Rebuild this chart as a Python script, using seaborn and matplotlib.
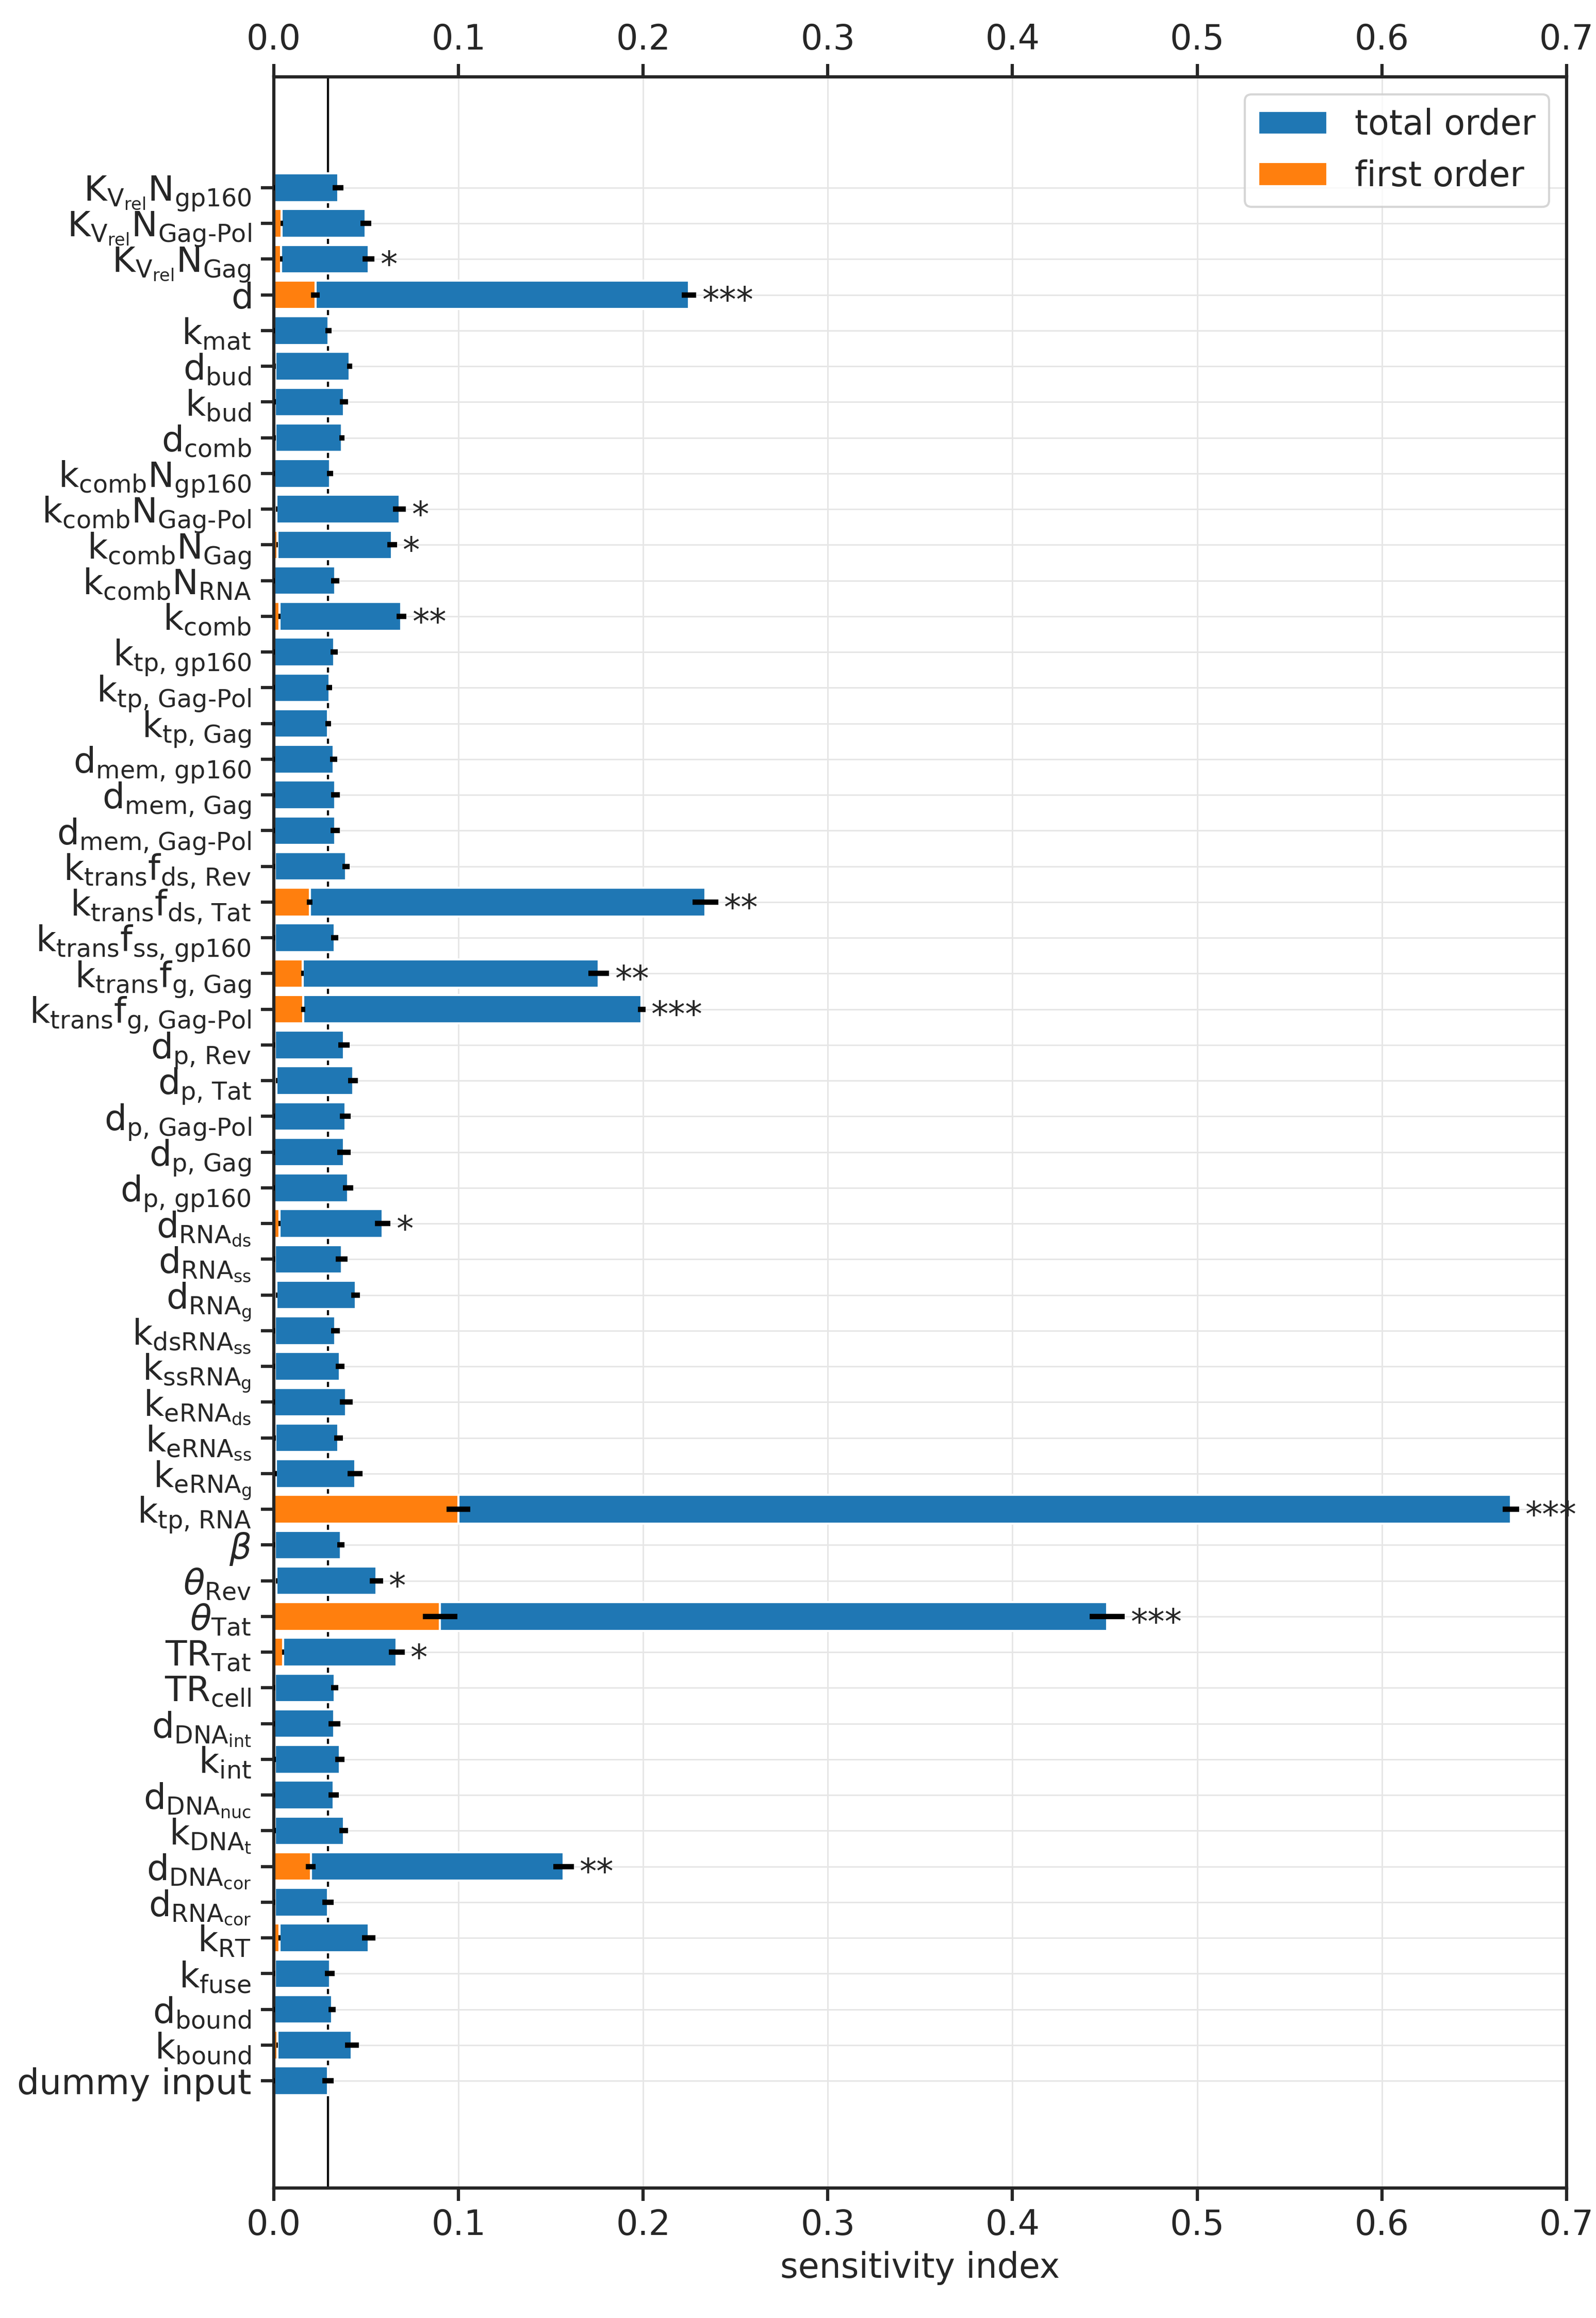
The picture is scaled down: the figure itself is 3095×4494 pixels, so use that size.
import numpy as np
import pandas as pd
import seaborn as sns
import matplotlib.pyplot as plt

# parameter labels (top to bottom)
params = [
    r'$K_{V_{rel}}N_{gp160}$', r'$K_{V_{rel}}N_{\text{Gag-Pol}}$', r'$K_{V_{rel}}N_{Gag}$',
    r'$d$', r'$k_{mat}$', r'$d_{bud}$', r'$k_{bud}$', r'$d_{comb}$',
    r'$k_{comb}N_{gp160}$', r'$k_{comb}N_{\text{Gag-Pol}}$', r'$k_{comb}N_{Gag}$',
    r'$k_{comb}N_{RNA}$', r'$k_{comb}$',
    r'$k_{\text{tp, gp160}}$', r'$k_{\text{tp, Gag-Pol}}$', r'$k_{\text{tp, Gag}}$',
    r'$d_{\text{mem, gp160}}$', r'$d_{\text{mem, Gag}}$', r'$d_{\text{mem, Gag-Pol}}$',
    r'$k_{trans}f_{\text{ds, Rev}}$', r'$k_{trans}f_{\text{ds, Tat}}$',
    r'$k_{trans}f_{\text{ss, gp160}}$', r'$k_{trans}f_{\text{g, Gag}}$',
    r'$k_{trans}f_{\text{g, Gag-Pol}}$',
    r'$d_{\text{p, Rev}}$', r'$d_{\text{p, Tat}}$', r'$d_{\text{p, Gag-Pol}}$',
    r'$d_{\text{p, Gag}}$', r'$d_{\text{p, gp160}}$',
    r'$d_{RNA_{ds}}$', r'$d_{RNA_{ss}}$', r'$d_{RNA_{g}}$',
    r'$k_{dsRNA_{ss}}$', r'$k_{ssRNA_{g}}$',
    r'$k_{eRNA_{ds}}$', r'$k_{eRNA_{ss}}$', r'$k_{eRNA_{g}}$',
    r'$k_{\text{tp, RNA}}$', r'$\mathit{\beta}$',
    r'$\mathit{\theta}_{Rev}$', r'$\mathit{\theta}_{Tat}$',
    r'$TR_{Tat}$', r'$TR_{cell}$',
    r'$d_{DNA_{int}}$', r'$k_{int}$', r'$d_{DNA_{nuc}}$', r'$k_{DNA_{t}}$',
    r'$d_{DNA_{cor}}$', r'$d_{RNA_{cor}}$', r'$k_{RT}$', r'$k_{fuse}$',
    r'$d_{bound}$', r'$k_{bound}$', 'dummy input',
]

total = [0.0348, 0.0498, 0.0513, 0.2248, 0.0296, 0.0410, 0.0380, 0.0367,
         0.0303, 0.0680, 0.0640, 0.0333, 0.0690,
         0.0327, 0.0300, 0.0294, 0.0324, 0.0333, 0.0333,
         0.0390, 0.2336, 0.0330, 0.1760, 0.1992,
         0.0379, 0.0429, 0.0387, 0.0379, 0.0401,
         0.0589, 0.0367, 0.0443, 0.0333, 0.0358,
         0.0392, 0.0350, 0.0440, 0.6700, 0.0362,
         0.0555, 0.4512, 0.0665, 0.0330,
         0.0327, 0.0356, 0.0324, 0.0379, 0.1568, 0.0293, 0.0513, 0.0303,
         0.0316, 0.0422, 0.0293]

total_err = [0.0030, 0.0030, 0.0032, 0.0040, 0.0016, 0.0015, 0.0022, 0.0014,
             0.0017, 0.0036, 0.0026, 0.0022, 0.0027,
             0.0020, 0.0015, 0.0015, 0.0019, 0.0023, 0.0025,
             0.0020, 0.0070, 0.0020, 0.0056, 0.0020,
             0.0030, 0.0027, 0.0030, 0.0037, 0.0028,
             0.0043, 0.0032, 0.0024, 0.0024, 0.0023,
             0.0034, 0.0023, 0.0040, 0.0045, 0.0020,
             0.0036, 0.0095, 0.0043, 0.0020,
             0.0032, 0.0025, 0.0027, 0.0024, 0.0056, 0.0032, 0.0036, 0.0027,
             0.0020, 0.0038, 0.0031]

first = [0.0003, 0.0042, 0.0040, 0.0225, 0.0003, 0.0008, 0.0006, 0.0007,
         0.0003, 0.0015, 0.0018, 0.0003, 0.0030,
         0.0003, 0.0003, 0.0003, 0.0003, 0.0003, 0.0003,
         0.0005, 0.0194, 0.0005, 0.0155, 0.0159,
         0.0005, 0.0015, 0.0003, 0.0003, 0.0003,
         0.0030, 0.0005, 0.0015, 0.0005, 0.0005,
         0.0003, 0.0007, 0.0011, 0.1000, 0.0005,
         0.0015, 0.0900, 0.0050, 0.0005,
         0.0003, 0.0006, 0.0003, 0.0006, 0.0200, 0.0005, 0.0030, 0.0005,
         0.0003, 0.0018, 0.0002]

first_err = [0.0002, 0.0007, 0.0006, 0.0023, 0.0002, 0.0004, 0.0004, 0.0004,
             0.0002, 0.0005, 0.0005, 0.0002, 0.0005,
             0.0002, 0.0002, 0.0002, 0.0002, 0.0002, 0.0002,
             0.0004, 0.0015, 0.0004, 0.0007, 0.0010,
             0.0004, 0.0005, 0.0002, 0.0002, 0.0002,
             0.0005, 0.0004, 0.0005, 0.0004, 0.0004,
             0.0002, 0.0004, 0.0005, 0.0064, 0.0004,
             0.0005, 0.0093, 0.0005, 0.0004,
             0.0002, 0.0004, 0.0002, 0.0004, 0.0027, 0.0004, 0.0005, 0.0004,
             0.0002, 0.0005, 0.0002]

stars = ['', '', '*', '***', '', '', '', '',
         '', '*', '*', '', '**',
         '', '', '', '', '', '',
         '', '**', '', '**', '***',
         '', '', '', '', '',
         '*', '', '', '', '',
         '', '', '', '***', '',
         '*', '***', '*', '',
         '', '', '', '', '**', '', '', '',
         '', '', '']

df = pd.DataFrame({'param': params, 'total': total, 'total_err': total_err,
                   'first': first, 'first_err': first_err, 'stars': stars})

sns.set_style('ticks')
plt.rcParams['font.family'] = ['DejaVu Sans']
plt.rcParams['mathtext.default'] = 'regular'
plt.rcParams['font.size'] = 16

fig = plt.figure(figsize=(3095 / 300, 4494 / 300), dpi=300)
ax = fig.add_axes([0.1716, 0.0561, 0.8099, 0.9107])

sns.barplot(data=df, x='total', y='param', order=params, color='#1f77b4',
            saturation=1, width=0.8, errorbar=None, label='total order', ax=ax, zorder=2)
sns.barplot(data=df, x='first', y='param', order=params, color='#ff7f0e',
            saturation=1, width=0.8, errorbar=None, label='first order', ax=ax, zorder=2)

pos = np.arange(len(params))
ax.errorbar(df['total'], pos, xerr=df['total_err'], fmt='none', ecolor='black',
            elinewidth=2.5, capsize=0, zorder=3)
ax.errorbar(df['first'], pos, xerr=df['first_err'], fmt='none', ecolor='black',
            elinewidth=2.5, capsize=0, zorder=3)

# significance stars
for i, row in df.iterrows():
    if row['stars']:
        ax.text(row['total'] + row['total_err'] + 0.003, i + 0.2, row['stars'],
                va='center', ha='left', fontsize=16)

# dummy input threshold
ax.axvline(df['total'].iloc[-1], color='black', lw=1, zorder=1)

ax.set_xlim(0, 0.7)
ax.set_ylim(56.0, -3.1)
ax.set_xticks(np.arange(0, 0.71, 0.1))
ax.set_xticklabels([f'{v:.1f}' for v in np.arange(0, 0.71, 0.1)])
ax.set_xlabel('sensitivity index', fontsize=16)
ax.set_ylabel('')
ax.grid(True, color='#e6e6e6', lw=0.7)
ax.set_axisbelow(True)
ax.tick_params(axis='x', top=True, labeltop=True, labelsize=16, length=6, width=1.5)
ax.tick_params(axis='y', labelsize=16.3, length=6, width=1.5, pad=4.5)
for s in ax.spines.values():
    s.set_visible(True)
    s.set_linewidth(1.5)

ax.legend(loc='upper right', fontsize=16, frameon=True)

fig.savefig('out.png', dpi=300)
